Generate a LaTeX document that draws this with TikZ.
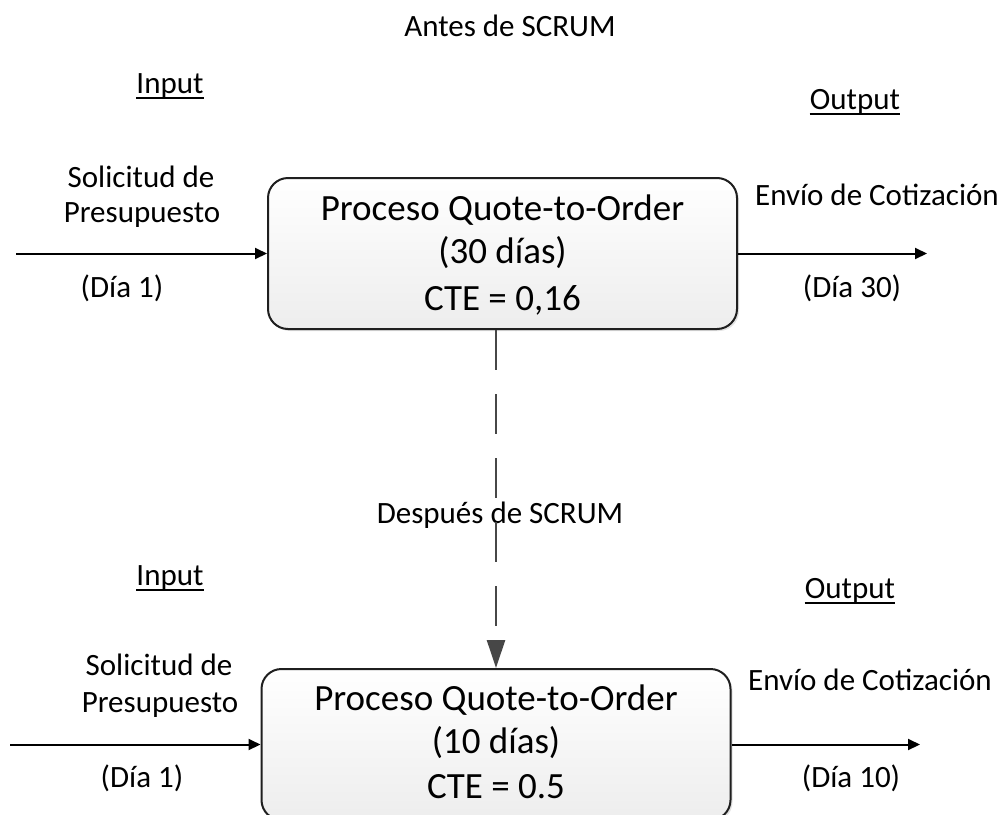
\documentclass[tikz,border=0pt]{standalone}
\usepackage{fontspec}
\setmainfont{Carlito}
\usetikzlibrary{arrows.meta,shadows}
\begin{document}
\begin{tikzpicture}[x=1pt,y=-1pt,
  procbox/.style={draw=black!88, line width=2pt, rounded corners=20pt,
    minimum width=469pt, minimum height=151pt, inner sep=0pt,
    top color=white, bottom color=black!7,
    drop shadow={shadow xshift=2pt, shadow yshift=-2pt, opacity=0.25, fill=black!45}},
  big/.style={font=\fontsize{37}{44}\selectfont, inner sep=0pt, anchor=base},
  small/.style={font=\fontsize{31}{37}\selectfont, inner sep=0pt, anchor=base},
  flow/.style={line width=2pt, -{Triangle[length=12pt,width=11pt]}},
  jump/.style={draw=black!72, line width=2.5pt, dash pattern=on 40pt off 24pt,
    -{Triangle[length=28pt,width=18pt]}},
  uline/.style={line width=1.6pt},
]
\useasboundingbox (0,0) rectangle (1006,814);

% process boxes
\node[procbox] (p1) at (502.5,253.5) {};
\node[procbox] (p2) at (496,744.5) {};

% box texts
\node[big] (t1a) at (502.5,220) {Proceso Quote-to-Order};
\node[big] (t1b) at (502.5,263) {(30 días)};
\node[big] (t1c) at (502.5,310) {CTE = 0,16};
\node[big] (t2a) at (496,710) {Proceso Quote-to-Order};
\node[big] (t2b) at (496,753) {(10 días)};
\node[big] (t2c) at (496,798) {CTE = 0.5};

% headings
\node[small] (title1) at (510,36) {Antes de SCRUM};
\node[small] (title2) at (500,523) {Después de SCRUM};
\node[small] (in1) at (170,93) {Input};
\node[small] (out1) at (855,109) {Output};
\node[small] (in2) at (170,585) {Input};
\node[small] (out2) at (850,598) {Output};
\foreach \n in {in1,out1,in2,out2}
  \draw[uline] ([yshift=-5pt]\n.base west) -- ([yshift=-5pt]\n.base east);

% side labels
\node[small] (req1a) at (141,187) {Solicitud de};
\node[small] (req1b) at (142,222) {Presupuesto};
\node[small] (day1a) at (122,297) {(Día 1)};
\node[small] (send1) at (877,205) {Envío de Cotización};
\node[small] (day1b) at (852,297) {(Día 30)};
\node[small] (req2a) at (159,675) {Solicitud de};
\node[small] (req2b) at (160,712) {Presupuesto};
\node[small] (day2a) at (142,787) {(Día 1)};
\node[small] (send2) at (870,690) {Envío de Cotización};
\node[small] (day2b) at (851,787) {(Día 10)};

% flow arrows
\coordinate (src1) at (16,253.5);
\coordinate (dst1) at (927,253.5);
\coordinate (src2) at (10,744.5);
\coordinate (dst2) at (920,744.5);
\draw[flow] (src1) -- (p1.west);
\draw[flow] (p1.east) -- (dst1);
\draw[flow] (src2) -- (p2.west);
\draw[flow] (p2.east) -- (dst2);

% link between the two stages
\draw[jump] (p1.south -| p2.north) -- (p2.north);
\end{tikzpicture}
\end{document}
